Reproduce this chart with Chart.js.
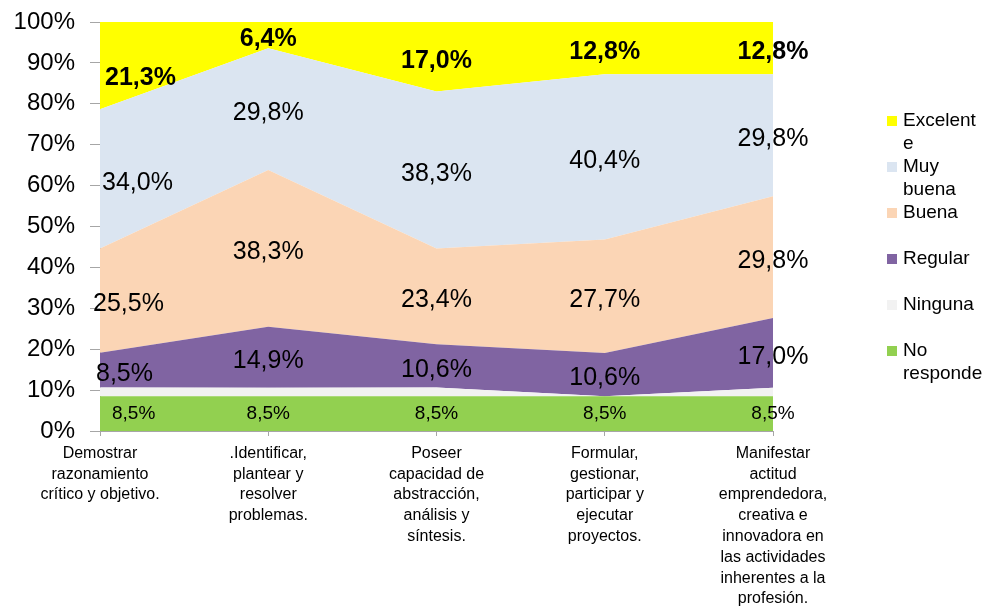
<!DOCTYPE html>
<html>
<head>
<meta charset="utf-8">
<script src="https://cdn.jsdelivr.net/npm/chart.js@4.4.1/dist/chart.umd.min.js"></script>
<style>
  html, body { margin: 0; padding: 0; background: #fff; }
  #wrap { width: 993px; height: 611px; }
</style>
</head>
<body>
<div id="wrap"><canvas id="chart" width="993" height="611"></canvas></div>
<script>
// categorías (ya partidas en líneas como en el original)
const categories = [
  ['Demostrar', 'razonamiento', 'crítico y objetivo.'],
  ['.Identificar,', 'plantear y', 'resolver', 'problemas.'],
  ['Poseer', 'capacidad de', 'abstracción,', 'análisis y', 'síntesis.'],
  ['Formular,', 'gestionar,', 'participar y', 'ejecutar', 'proyectos.'],
  ['Manifestar', 'actitud', 'emprendedora,', 'creativa e', 'innovadora en', 'las actividades', 'inherentes a la', 'profesión.']
];
const seriesNames = ['No responde', 'Ninguna', 'Regular', 'Buena', 'Muy buena', 'Excelente'];
const noResponde = [8.5, 8.5, 8.5, 8.5, 8.5];
const ninguna    = [2.1, 2.1, 2.1, 0.0, 2.1];
const regular    = [8.5, 14.9, 10.6, 10.6, 17.0];
const buena      = [25.5, 38.3, 23.4, 27.7, 29.8];
const muyBuena   = [34.0, 29.8, 38.3, 40.4, 29.8];
const excelente  = [21.3, 6.4, 17.0, 12.8, 12.8];
const yTicks = [0, 10, 20, 30, 40, 50, 60, 70, 80, 90, 100];

const series = [noResponde, ninguna, regular, buena, muyBuena, excelente];
const colors = ['#92d050', '#f2f2f2', '#8064a2', '#fbd5b5', '#dbe5f1', '#ffff00'];
const FONT = "'Liberation Sans', Arial, sans-serif";
const AXIS = '#a6a6a6';

// apilado al 100% (como Excel)
const totals = categories.map((c, i) => series.reduce((s, arr) => s + arr[i], 0));
const pct = series.map(arr => arr.map((v, i) => v / totals[i] * 100));

function fmt(v) { return v.toFixed(1).replace('.', ',') + '%'; }

// etiquetas de datos
const labelPlugin = {
  id: 'areaLabels',
  afterDatasetsDraw(chart) {
    const ctx = chart.ctx;
    const y = chart.scales.y;
    const x = chart.scales.x;
    ctx.save();
    ctx.fillStyle = '#000';
    ctx.textBaseline = 'middle';
    categories.forEach((c, i) => {
      let cum = 0;
      series.forEach((arr, d) => {
        const v = pct[d][i];
        const mid = cum + v / 2;
        cum += v;
        if (d === 1) return; // "Ninguna" sin etiqueta
        const px = x.getPixelForValue(i);
        let py = y.getPixelForValue(mid) + (d === 0 ? 0 : 4);
        const bold = d === 5;
        const size = d === 0 ? 19 : 25;
        ctx.font = (bold ? 'bold ' : '') + size + 'px ' + FONT;
        if (i === 0) {
          const dx = [12, 0, -4, -7, 2, 5][d];
          if (d === 5) py += 9;
          ctx.textAlign = 'left';
          ctx.fillText(fmt(arr[i]), px + dx, py);
        } else {
          ctx.textAlign = 'center';
          ctx.fillText(fmt(arr[i]), px, py);
        }
      });
    });
    ctx.restore();
  }
};

// leyenda a la derecha con texto partido en líneas
function wrap(ctx, text, maxW) {
  const lines = [];
  let cur = '';
  text.split(' ').forEach(w => {
    const t = cur ? cur + ' ' + w : w;
    if (ctx.measureText(t).width <= maxW) { cur = t; return; }
    if (cur) lines.push(cur);
    cur = w;
    while (ctx.measureText(cur).width > maxW) {
      let k = cur.length;
      while (k > 1 && ctx.measureText(cur.slice(0, k)).width > maxW) k--;
      lines.push(cur.slice(0, k));
      cur = cur.slice(k);
    }
  });
  if (cur) lines.push(cur);
  return lines;
}

const legendPlugin = {
  id: 'sideLegend',
  afterDraw(chart) {
    const ctx = chart.ctx;
    const left = chart.chartArea.right + 114;
    ctx.save();
    ctx.font = '19px ' + FONT;
    ctx.textBaseline = 'middle';
    ctx.textAlign = 'left';
    const order = seriesNames.map((n, i) => i).reverse();
    order.forEach((d, k) => {
      const yc = 121 + k * 46;
      ctx.fillStyle = colors[d];
      ctx.fillRect(left, yc - 5, 10, 10);
      ctx.fillStyle = '#000';
      wrap(ctx, seriesNames[d], 80).forEach((ln, j) => {
        ctx.fillText(ln, left + 16, yc + j * 23);
      });
    });
    ctx.restore();
  }
};

new Chart(document.getElementById('chart'), {
  type: 'line',
  data: {
    labels: categories,
    datasets: series.map((arr, d) => ({
      label: seriesNames[d],
      data: pct[d],
      backgroundColor: colors[d],
      borderColor: 'rgba(0,0,0,0)',
      borderWidth: 0,
      pointRadius: 0,
      tension: 0,
      fill: d === 0 ? 'origin' : '-1'
    }))
  },
  options: {
    responsive: false,
    animation: false,
    layout: { padding: { top: 22, right: 220, left: 0, bottom: 0 } },
    plugins: { legend: { display: false }, tooltip: { enabled: false } },
    scales: {
      x: {
        type: 'category',
        offset: false,
        z: 1,
        border: { color: AXIS, width: 1 },
        grid: { drawOnChartArea: false, tickLength: 5, tickColor: AXIS },
        ticks: {
          color: '#000', maxRotation: 0, autoSkip: false, padding: 7,
          font: { family: FONT, size: 16, lineHeight: 1.3 }
        },
        afterFit(scale) { scale.height = 180; }
      },
      y: {
        stacked: true,
        min: 0,
        max: 100,
        z: 1,
        border: { color: AXIS, width: 1 },
        grid: {
          drawOnChartArea: true,
          color: c => (c.tick && c.tick.value === 100 ? AXIS : 'rgba(0,0,0,0)'),
          tickColor: AXIS,
          tickLength: 10
        },
        afterBuildTicks(scale) { scale.ticks = yTicks.map(v => ({ value: v })); },
        ticks: {
          color: '#000', padding: 15,
          font: { family: FONT, size: 24 },
          callback: v => v + '%'
        },
        afterFit(scale) {
          scale.width = 100;
          scale.paddingTop = 0;
          scale.paddingBottom = 0;
        }
      }
    }
  },
  plugins: [labelPlugin, legendPlugin]
});
</script>
</body>
</html>
